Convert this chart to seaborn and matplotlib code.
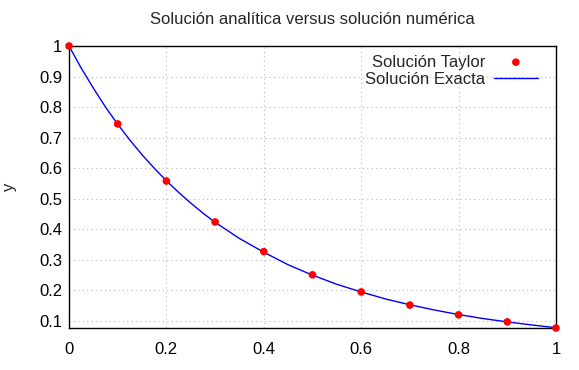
import numpy as np
import pandas as pd
import matplotlib
matplotlib.use("Agg")
import matplotlib.pyplot as plt
import seaborn as sns

# Taylor points
x_taylor = [0.0, 0.1, 0.2, 0.3, 0.4, 0.5, 0.6, 0.7, 0.8, 0.9, 1.0]
y_taylor = [1.0, 0.745, 0.558, 0.424, 0.327, 0.251, 0.195, 0.152, 0.120, 0.097, 0.077]

# exact solution curve
x_exact = [0.0, 0.025, 0.05, 0.075, 0.1, 0.125, 0.15, 0.175, 0.2, 0.225, 0.25, 0.275,
           0.3, 0.35, 0.4, 0.45, 0.5, 0.55, 0.6, 0.65, 0.7, 0.75, 0.8, 0.85, 0.9,
           0.95, 1.0]
y_exact = [1.0, 0.928, 0.862, 0.800, 0.744, 0.692, 0.644, 0.600, 0.559, 0.521, 0.486,
           0.453, 0.423, 0.370, 0.325, 0.284, 0.250, 0.220, 0.195, 0.172, 0.153,
           0.136, 0.121, 0.108, 0.097, 0.087, 0.078]

x_ticks = [0, 0.2, 0.4, 0.6, 0.8, 1]
x_ticklabels = ["0", "0.2", "0.4", "0.6", "0.8", "1"]
y_ticks = [0.1, 0.2, 0.3, 0.4, 0.5, 0.6, 0.7, 0.8, 0.9, 1]
y_ticklabels = ["0.1", "0.2", "0.3", "0.4", "0.5", "0.6", "0.7", "0.8", "0.9", "1"]

df_taylor = pd.DataFrame({"x": x_taylor, "y": y_taylor})
df_exact = pd.DataFrame({"x": x_exact, "y": y_exact})

sns.set_style("white")
plt.rcParams['font.family'] = ['Liberation Sans', 'DejaVu Sans']

fig = plt.figure(figsize=(5.79, 3.70), dpi=100)
ax = fig.add_axes([69 / 579, 1 - 328 / 370, (556 - 69) / 579, (328 - 46) / 370])

sns.scatterplot(data=df_taylor, x="x", y="y", ax=ax, color="red", s=30,
                edgecolor="none", label="Solución Taylor", zorder=4, clip_on=False)
sns.lineplot(data=df_exact, x="x", y="y", ax=ax, color="blue", linewidth=1,
             label="Solución Exacta", zorder=3)

ax.set_xlim(0, 1)
ax.set_ylim(0.077, 1.0)
ax.set_xticks(x_ticks)
ax.set_xticklabels(x_ticklabels)
ax.set_yticks(y_ticks)
ax.set_yticklabels(y_ticklabels)
ax.tick_params(direction="in", length=6, width=1, labelsize=12, colors="black")
ax.tick_params(axis="x", pad=10)
ax.tick_params(axis="y", pad=5)
ax.grid(True, linestyle=(0, (1, 3)), color="#b8b8b8", linewidth=0.8)
for sp in ax.spines.values():
    sp.set_color("black")
    sp.set_linewidth(1)

ax.set_xlabel("")
ax.set_ylabel("y", fontsize=12, labelpad=16)
ax.set_title("Solución analítica versus solución numérica", fontsize=12, pad=16)

ax.legend(loc="upper right", frameon=False, markerfirst=False, fontsize=12,
          handlelength=2.6, handletextpad=0.55, borderaxespad=0.3, labelspacing=0.12,
          bbox_to_anchor=(0.986, 1.011))

fig.savefig("out.png", dpi=100)
